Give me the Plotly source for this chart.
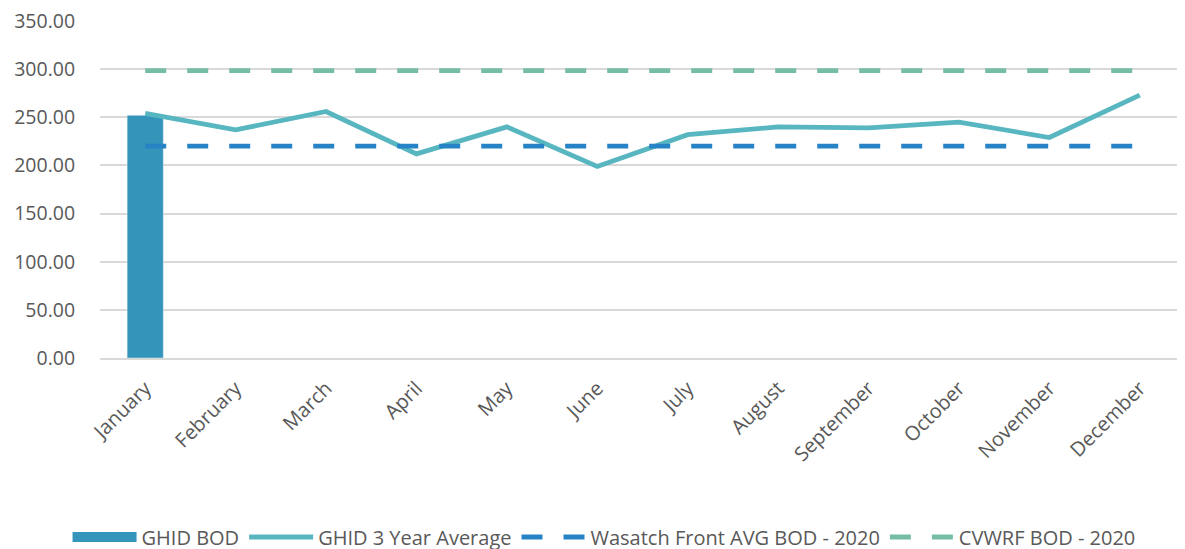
import plotly.graph_objects as go

months = ["January", "February", "March", "April", "May", "June", "July",
          "August", "September", "October", "November", "December"]
ghid_bod = [252, None, None, None, None, None, None, None, None, None, None, None]
ghid_3yr = [254, 237, 256, 212, 240, 199, 232, 240, 239, 245, 229, 273]
wasatch = [220] * 12
cvwrf = [298.5] * 12
y_ticks = [0, 50, 100, 150, 200, 250, 300, 350]

font = "Open Sans"
gray = "#595959"
bar_color = "#3494BA"

fig = go.Figure()
fig.add_trace(go.Bar(x=months, y=ghid_bod, name="GHID BOD", marker_color=bar_color,
                     width=0.4, showlegend=False, legendgroup="bod"))
# legend swatch for the bar series (wide rectangle like the original)
fig.add_trace(go.Scatter(x=[None], y=[None], name="GHID BOD", mode="lines",
                         line=dict(color=bar_color, width=15), legendgroup="bod"))
fig.add_trace(go.Scatter(x=months, y=ghid_3yr, name="GHID 3 Year Average", mode="lines",
                         line=dict(color="#58B6C0", width=4.8)))
fig.add_trace(go.Scatter(x=months, y=wasatch, name="Wasatch Front AVG BOD - 2020", mode="lines",
                         line=dict(color="#2683C6", width=4.8, dash="21px,21px")))
fig.add_trace(go.Scatter(x=months, y=cvwrf, name="CVWRF BOD - 2020", mode="lines",
                         line=dict(color="#75BDA7", width=4.8, dash="21px,21px")))

fig.update_layout(
    width=1185, height=549,
    margin=dict(l=92, r=8, t=13, b=199),
    plot_bgcolor="white", paper_bgcolor="white",
    font=dict(family=font, size=19, color=gray),
    showlegend=True,
    legend=dict(orientation="h", xref="container", yref="container",
                x=0.503, xanchor="center", y=0.0364, yanchor="middle",
                font=dict(family=font, size=20, color=gray), traceorder="normal",
                itemwidth=64),
    xaxis=dict(tickangle=-45, showgrid=False, showline=True, linecolor="#D9D9D9",
               linewidth=1.5, ticks="outside", ticklen=9, tickcolor="rgba(0,0,0,0)",
               automargin=False, tickfont=dict(size=20, color=gray)),
    yaxis=dict(range=[0, 350], tickvals=y_ticks, tickformat=".2f", showgrid=True,
               gridcolor="#D9D9D9", gridwidth=1.5, zeroline=False, showline=False,
               ticks="outside", ticklen=20, tickcolor="rgba(0,0,0,0)", automargin=False,
               ticklabeloverflow="allow",
               tickfont=dict(size=19.5, color=gray)),
)

fig.write_html("out.html")
